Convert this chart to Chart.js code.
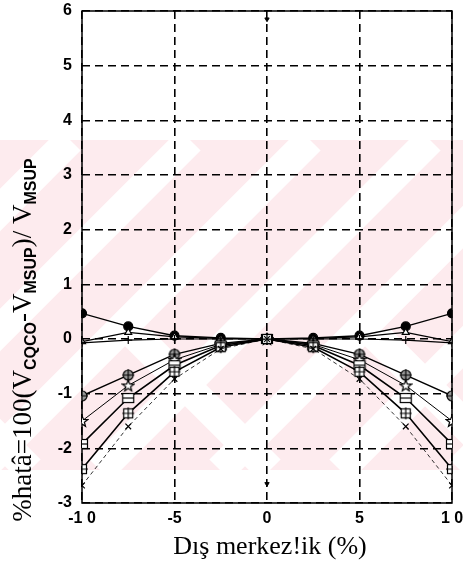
<!DOCTYPE html>
<html>
<head>
<meta charset="utf-8">
<script src="https://cdn.jsdelivr.net/npm/chart.js@4.4.1/dist/chart.umd.min.js"></script>
<style>
  html, body { margin: 0; padding: 0; background: #fff; }
  #wrap { width: 463px; height: 572px; position: relative; }
</style>
</head>
<body>
<div id="wrap"><canvas id="errChart" width="463" height="572"></canvas></div>
<script>
// eccentricity values (%)
const eccentricity = [-10, -7.5, -5, -2.5, 0, 2.5, 5, 7.5, 10];

// error curves, one per case
const errCircle  = [0.47, 0.23, 0.06, 0.02, 0, 0.02, 0.06, 0.23, 0.47];
const errTri     = [-0.05, 0.12, 0.04, 0.01, 0, 0.01, 0.04, 0.12, -0.05];
const errPlus    = [-0.07, -0.02, 0.0, 0.0, 0, 0.0, 0.0, -0.02, -0.07];
const errDiamond = [-1.04, -0.66, -0.28, -0.08, 0, -0.08, -0.28, -0.66, -1.04];
const errStar    = [-1.5, -0.85, -0.38, -0.1, 0, -0.1, -0.38, -0.85, -1.5];
const errSquare  = [-1.92, -1.08, -0.48, -0.12, 0, -0.12, -0.48, -1.08, -1.92];
const errBox     = [-2.38, -1.36, -0.6, -0.15, 0, -0.15, -0.6, -1.36, -2.38];
const errX       = [-2.68, -1.6, -0.73, -0.18, 0, -0.18, -0.73, -1.6, -2.68];

// two stray marks on the centre line
const centreMarks = [5.85, -2.65];

const xTicks = [-10, -5, 0, 5, 10];
const xTickLabels = ['-1 0', '-5', '0', '5', '1 0'];

function pts(ys) {
    return eccentricity.map((x, i) => ({x: x, y: ys[i]}));
}

// small hand drawn markers
function marker(draw) {
    const c = document.createElement('canvas');
    c.width = 14; c.height = 14;
    const g = c.getContext('2d');
    g.strokeStyle = '#000';
    g.lineWidth = 1.2;
    draw(g);
    return c;
}
const starMark = marker(g => {
    g.beginPath();
    for (let i = 0; i < 10; i++) {
        const r = i % 2 ? 2.5 : 6;
        const a = -Math.PI / 2 + i * Math.PI / 5;
        const px = 7 + r * Math.cos(a), py = 7.5 + r * Math.sin(a);
        i ? g.lineTo(px, py) : g.moveTo(px, py);
    }
    g.closePath();
    g.fillStyle = '#fff'; g.fill(); g.stroke();
});
const squareMark = marker(g => {
    g.fillStyle = '#fff';
    g.fillRect(1.5, 2.5, 11, 9);
    g.strokeRect(1.5, 2.5, 11, 9);
    g.beginPath(); g.moveTo(1.5, 7); g.lineTo(12.5, 7); g.stroke();
});
const boxMark = marker(g => {
    g.fillStyle = '#fff';
    g.fillRect(2.5, 2.5, 9, 9);
    g.strokeRect(2.5, 2.5, 9, 9);
    g.beginPath();
    g.moveTo(7, 1); g.lineTo(7, 13);
    g.moveTo(1, 7); g.lineTo(13, 7);
    g.stroke();
});
const diamondMark = marker(g => {
    g.beginPath(); g.arc(7, 7, 5, 0, Math.PI * 2);
    g.fillStyle = '#999'; g.fill(); g.stroke();
    g.beginPath();
    g.moveTo(1, 7); g.lineTo(13, 7);
    g.moveTo(7, 1); g.lineTo(7, 13);
    g.stroke();
});

function series(ys, style, width, dash, radius) {
    return {
        data: pts(ys),
        borderColor: '#000',
        backgroundColor: '#000',
        borderWidth: width,
        borderDash: dash || [],
        pointStyle: style,
        pointRadius: radius || 4,
        pointBorderColor: '#000',
        pointBackgroundColor: '#000',
        pointBorderWidth: 1.2,
        showLine: true,
        tension: 0
    };
}

const datasets = [
    series(errX, 'crossRot', 0.8, [4, 3], 4),
    series(errBox, boxMark, 1.6),
    series(errSquare, squareMark, 1.6),
    series(errStar, starMark, 1),
    series(errDiamond, diamondMark, 1.4),
    series(errPlus, 'cross', 1.2, [], 4),
    Object.assign(series(errTri, 'triangle', 1.2, [], 4), {pointBackgroundColor: '#fff'}),
    series(errCircle, 'circle', 1.4, [], 4.5),
    {
        data: centreMarks.map(v => ({x: 0, y: v})),
        showLine: false,
        pointStyle: 'triangle',
        rotation: 180,
        pointRadius: 2.5,
        pointBackgroundColor: '#000',
        pointBorderColor: '#000'
    }
];

// pink background band, frame and axis titles
const decor = {
    id: 'decor',
    beforeDraw(chart) {
        const ctx = chart.ctx;
        ctx.save();
        ctx.beginPath();
        ctx.rect(0, 140, 463, 330);
        ctx.clip();
        ctx.fillStyle = '#fdebee';
        ctx.fillRect(0, 140, 463, 330);
        ctx.strokeStyle = '#fff';
        ctx.lineWidth = 30;
        for (let k = -500; k < 700; k += 120) {
            ctx.beginPath(); ctx.moveTo(k, 470); ctx.lineTo(k + 330, 140); ctx.stroke();
        }
        ctx.beginPath();
        ctx.rect(0, 330, 463, 140);
        ctx.clip();
        for (let k = -300; k < 700; k += 240) {
            ctx.beginPath(); ctx.moveTo(k, 140); ctx.lineTo(k + 330, 470); ctx.stroke();
        }
        ctx.restore();
    },
    beforeDatasetsDraw(chart) {
        const a = chart.chartArea, ctx = chart.ctx;
        ctx.save();
        ctx.strokeStyle = '#000';
        ctx.lineWidth = 1.5;
        ctx.strokeRect(a.left, a.top, a.right - a.left, a.bottom - a.top);
        ctx.restore();
    },
    afterDraw(chart) {
        const ctx = chart.ctx;
        ctx.save();
        ctx.fillStyle = '#000';
        ctx.textBaseline = 'alphabetic';
        ctx.font = '26px "Liberation Serif"';
        ctx.textAlign = 'center';
        ctx.fillText('Dış merkez!ik (%)', 270, 554);

        // rotated y title with subscripts
        const parts = [
            ['%hatâ=100(V', false], ['CQCO', true], ['-V', false],
            ['MSUP', true], [')/ V', false], ['MSUP', true]
        ];
        const big = '27px "Liberation Serif"', small = 'bold 16px "Liberation Sans"';
        let total = 0;
        parts.forEach(p => { ctx.font = p[1] ? small : big; total += ctx.measureText(p[0]).width; });
        ctx.translate(31, 340);
        ctx.rotate(-Math.PI / 2);
        ctx.textAlign = 'left';
        let x = -total / 2;
        parts.forEach(p => {
            ctx.font = p[1] ? small : big;
            ctx.fillText(p[0], x, p[1] ? 5 : 0);
            x += ctx.measureText(p[0]).width;
        });
        ctx.restore();
    }
};

Chart.defaults.font.family = '"Liberation Sans", Arial, sans-serif';
Chart.defaults.color = '#000';

new Chart(document.getElementById('errChart'), {
    type: 'line',
    data: { datasets: datasets },
    options: {
        responsive: false,
        animation: false,
        devicePixelRatio: 1,
        layout: { padding: { top: 11, right: 11, left: 0, bottom: 0 } },
        plugins: { legend: { display: false }, tooltip: { enabled: false } },
        scales: {
            x: {
                type: 'linear',
                min: -10, max: 10,
                afterFit: s => { s.height = 69; s.paddingLeft = 0; s.paddingRight = 0; },
                afterBuildTicks: s => { s.ticks = xTicks.map(v => ({value: v})); },
                ticks: {
                    font: { size: 16, weight: 'bold' },
                    padding: 6,
                    maxRotation: 0,
                    autoSkip: false,
                    callback: v => xTickLabels[xTicks.indexOf(v)]
                },
                grid: { color: '#000', lineWidth: 1.6, drawTicks: false },
                border: { display: false, dash: [8, 5] }
            },
            y: {
                min: -3, max: 6,
                afterFit: s => { s.width = 82; s.paddingTop = 0; s.paddingBottom = 0; },
                ticks: {
                    stepSize: 1,
                    autoSkip: false,
                    font: { size: 16, weight: 'bold' },
                    padding: 10
                },
                grid: { color: '#000', lineWidth: 1.6, drawTicks: false },
                border: { display: false, dash: [8, 5] }
            }
        }
    },
    plugins: [decor]
});
</script>
</body>
</html>
